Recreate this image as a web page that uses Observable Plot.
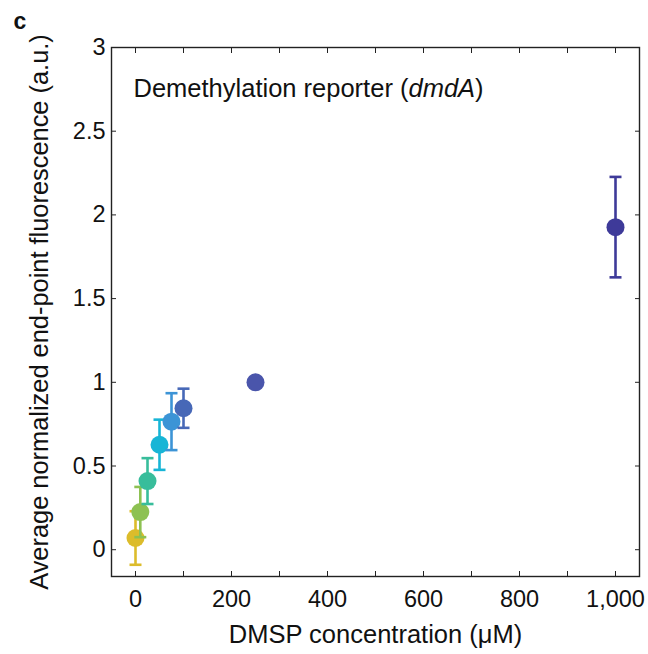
<!DOCTYPE html>
<html><head><meta charset="utf-8">
<script src="https://cdn.jsdelivr.net/npm/d3@7"></script>
<script src="https://cdn.jsdelivr.net/npm/@observablehq/plot@0.6"></script>
<style>body{margin:0;background:#fff;} svg{font-family:"Liberation Sans",Arial,Helvetica,sans-serif;}</style>
</head><body><div id="chart"></div>
<script>
const concentrations = [0, 10, 25, 50, 75, 100, 250, 1000];
const meanFluor = [0.07, 0.225, 0.41, 0.627, 0.765, 0.845, 1.0, 1.927];
const errFluor = [0.16, 0.15, 0.137, 0.15, 0.17, 0.117, 0, 0.30];
const pointColors = ["#dcbc2b", "#8dc152", "#38bd9b", "#17b5d6", "#3c94d6", "#4768b7", "#4a55ab", "#3e3a99"];
const xMajorTicks = [0, 200, 400, 600, 800, 1000];
const xMinorTicks = [0, 100, 200, 300, 400, 500, 600, 700, 800, 900, 1000];
const yTicks = [0, 0.5, 1, 1.5, 2, 2.5, 3];

const data = concentrations.map((c, i) => ({
  x: c, y: meanFluor[i], lo: meanFluor[i] - errFluor[i], hi: meanFluor[i] + errFluor[i],
  err: errFluor[i], color: pointColors[i]
}));

const cap = { draw(ctx, size) { const w = Math.sqrt(size / Math.PI); ctx.moveTo(-w, 0); ctx.lineTo(w, 0); } };

const pointMarks = data.flatMap(d => {
  const arr = [];
  if (d.err > 0) {
    arr.push(Plot.ruleX([d], {x: "x", y1: "lo", y2: "hi", stroke: d.color, strokeWidth: 2.6}));
    arr.push(Plot.dot([d], {x: "x", y: "lo", symbol: cap, r: 6, stroke: d.color, strokeWidth: 2.6}));
    arr.push(Plot.dot([d], {x: "x", y: "hi", symbol: cap, r: 6, stroke: d.color, strokeWidth: 2.6}));
  }
  arr.push(Plot.dot([d], {x: "x", y: "y", r: 9, fill: d.color}));
  return arr;
});

const fmt = d3.format(",");
const chart = Plot.plot({
  width: 648, height: 654,
  marginLeft: 111, marginRight: 9, marginTop: 47, marginBottom: 78,
  x: {domain: [-50, 1050]},
  y: {domain: [-0.16, 3]},
  style: {fontFamily: '"Liberation Sans", Arial, Helvetica, sans-serif', background: "#fff"},
  marks: [
    Plot.axisX({anchor: "bottom", ticks: xMinorTicks, tickSize: -5, tickPadding: 19, fontSize: 23.5,
      tickFormat: d => xMajorTicks.includes(d) ? fmt(d) : "", label: null, stroke: "#222", fill: "#111"}),
    Plot.axisX({anchor: "top", ticks: xMinorTicks, tickSize: -5, tickFormat: () => "", label: null, stroke: "#222"}),
    Plot.axisY({anchor: "left", ticks: yTicks, tickSize: -5, tickPadding: 11, fontSize: 23.5,
      tickFormat: d => String(d), label: null, stroke: "#222", fill: "#111"}),
    Plot.axisY({anchor: "right", ticks: yTicks, tickSize: -5, tickFormat: () => "", label: null, stroke: "#222"}),
    Plot.frame({stroke: "#222", strokeWidth: 1.4}),
    ...pointMarks,
    Plot.text(["DMSP concentration (μM)"], {frameAnchor: "bottom", dy: 58, fontSize: 25.5, fill: "#111", textAnchor: "middle", lineAnchor: "middle"}),
    Plot.text(["Average normalized end-point fluorescence (a.u.)"], {frameAnchor: "left", dx: -72, rotate: -90, fontSize: 25.4, fill: "#111", textAnchor: "middle", lineAnchor: "middle"}),
    Plot.text(["Demethylation reporter (dmdA)"], {frameAnchor: "top-left", dx: 22, dy: 41, fontSize: 25.5, textAnchor: "start", lineAnchor: "middle", fill: "#111"}),
    Plot.text(["c"], {frameAnchor: "top-left", dx: -98, dy: -26, fontSize: 23, fontWeight: "bold", textAnchor: "start", lineAnchor: "middle", fill: "#111"})
  ]
});
document.getElementById("chart").appendChild(chart);
// italicize gene name
d3.select(chart).selectAll("text").each(function() {
  const t = d3.select(this);
  if (t.text() === "Demethylation reporter (dmdA)") {
    t.text(null);
    t.append("tspan").text("Demethylation reporter (");
    t.append("tspan").attr("font-style", "italic").text("dmdA");
    t.append("tspan").text(")");
  }
});
</script></body></html>
